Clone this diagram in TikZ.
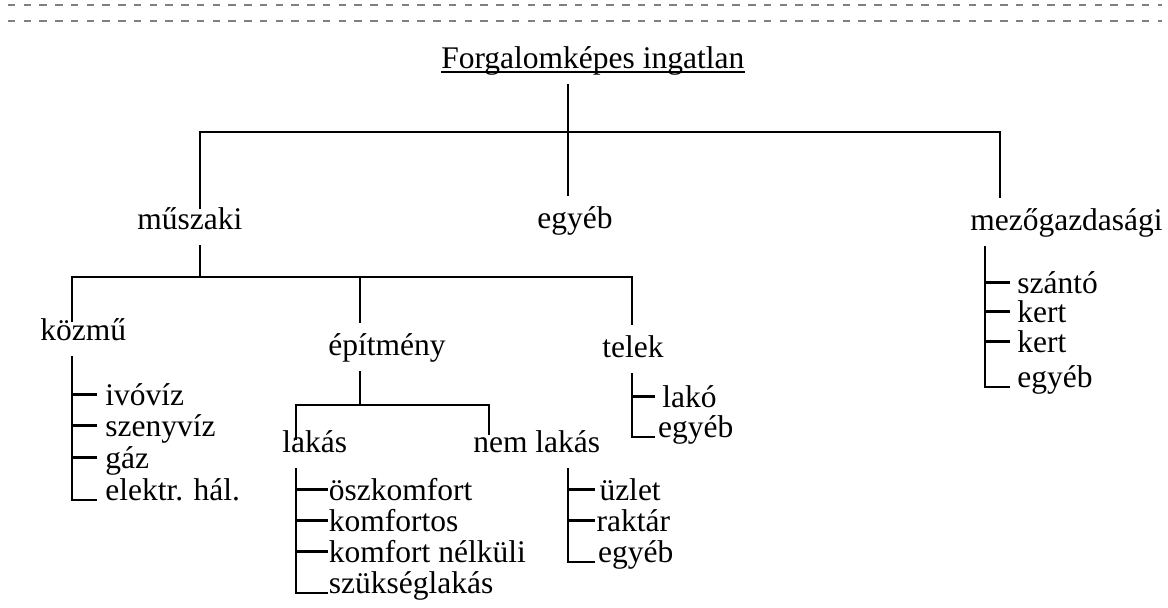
\documentclass[tikz,border=0pt]{standalone}
\usepackage{fontspec}
\setmainfont{Liberation Serif}
\usepackage{tikz}
\definecolor{szurke}{HTML}{808080}

\begin{document}
\begin{tikzpicture}[x=0.025cm, y=-0.025cm,
    felirat/.style={inner sep=0pt, anchor=base west, font=\fontsize{22.4}{26}\selectfont},
    szint/.style={felirat, text height=15.7pt, text depth=4.5pt, inner ysep=6.9pt},
    elem/.style={felirat, text height=17pt, text depth=2pt, inner xsep=#1},
    elem/.default=0pt,
    vonal/.style={line width=1.7pt},
    elvalaszto/.style={draw=szurke, line width=1.4pt, dash pattern=on 5.2pt off 6pt}
]
    \useasboundingbox (0,0) rectangle (1168,607);

    % szaggatott elvalaszto vonalak
    \draw[elvalaszto] (8,5) -- (1162,5);
    \draw[elvalaszto] (8,21) -- (1162,21);

    % cim
    \node[szint] (cim) at (441,68) {Forgalomképes ingatlan};
    \draw[line width=1.3pt] ([yshift=-3pt]cim.base west) -- ([yshift=-3pt]cim.base east);

    % elso szint
    \node[szint] (muszaki) at (137,229) {műszaki};
    \node[szint] (egyeb) at (537,228) {egyéb};
    \node[szint] (mezo) at (970,230) {mezőgazdasági};

    \coordinate (fo) at (568,132);
    \coordinate (fo-bal) at (200,132);
    \coordinate (fo-jobb) at (1000,132);
    \draw[vonal] (cim.south -| fo) -- (fo);
    \draw[vonal, shorten <=-8.3pt] (fo-bal |- muszaki.north) -- (fo-bal) -- (fo-jobb) -- (fo-jobb |- mezo.north);
    \draw[vonal] (fo) -- (fo |- egyeb.north);

    % muszaki
    \node[szint] (kozmu) at (40,340) {közmű};
    \node[szint] (epitmeny) at (328,355) {építmény};
    \node[szint] (telek) at (602,357) {telek};

    \coordinate (m) at (200,277);
    \coordinate (m-bal) at (72,277);
    \coordinate (m-kozep) at (360,277);
    \coordinate (m-jobb) at (632,277);
    \draw[vonal] (muszaki.south -| m) -- (m);
    \draw[vonal, shorten <=-9.7pt] (m-bal |- kozmu.north) -- (m-bal) -- (m-jobb) -- (m-jobb |- telek.north);
    \draw[vonal] (m-kozep) -- (m-kozep |- epitmeny.north);

    % kozmu
    \node[elem=5.7pt] (ivoviz) at (97,405) {ivóvíz};
    \node[elem=5.7pt] (szenyviz) at (97,436) {szenyvíz};
    \node[elem=5.7pt] (gaz) at (97,468) {gáz};
    \node[elem=5.7pt] (elektr) at (97,500) {elektr. hál.};
    \draw[vonal] (kozmu.south -| m-bal) |- (elektr.base west);
    \draw[vonal] (m-bal |- ivoviz.west) -- (ivoviz.west);
    \draw[vonal] (m-bal |- szenyviz.west) -- (szenyviz.west);
    \draw[vonal] (m-bal |- gaz.west) -- (gaz.west);

    % epitmeny
    \node[szint] (lakas) at (282,452) {lakás};
    \node[szint] (nemlakas) at (473,452) {nem lakás};

    \coordinate (e) at (360,405);
    \coordinate (e-bal) at (296,405);
    \coordinate (e-jobb) at (489,405);
    \draw[vonal] (epitmeny.south -| e) -- (e);
    \draw[vonal, shorten <=-14pt, shorten >=-10.5pt] (e-bal |- lakas.north) -- (e-bal) -- (e-jobb) -- (e-jobb |- nemlakas.north);

    % lakas
    \node[elem=0.5pt] (osz) at (328,500) {öszkomfort};
    \node[elem=0.5pt] (komf) at (328,531) {komfortos};
    \node[elem=0.5pt] (komfn) at (328,562) {komfort nélküli};
    \node[elem=0.5pt] (szuks) at (328,593) {szükséglakás};
    \draw[vonal] (lakas.south -| e-bal) |- (szuks.base west);
    \draw[vonal] (e-bal |- osz.west) -- (osz.west);
    \draw[vonal] (e-bal |- komf.west) -- (komf.west);
    \draw[vonal] (e-bal |- komfn.west) -- (komfn.west);

    % nem lakas
    \coordinate (n) at (568,468);
    \node[elem=3pt] (uzlet) at (595,500) {üzlet};
    \node[elem=1pt] (raktar) at (595,531) {raktár};
    \node[elem=2pt] (nlegyeb) at (595,562) {egyéb};
    \draw[vonal] (nemlakas.south -| n) |- (nlegyeb.base west);
    \draw[vonal] (n |- uzlet.west) -- (uzlet.west);
    \draw[vonal] (n |- raktar.west) -- (raktar.west);

    % telek
    \node[elem=5pt] (lako) at (655,407) {lakó};
    \node[elem=2pt] (tegyeb) at (655,437) {egyéb};
    \draw[vonal] (telek.south -| m-jobb) |- (tegyeb.base west);
    \draw[vonal] (m-jobb |- lako.west) -- (lako.west);

    % mezogazdasagi
    \coordinate (g) at (985,245);
    \node[elem=5pt] (szanto) at (1010,293) {szántó};
    \node[elem=5pt] (kert) at (1010,322) {kert};
    \node[elem=5pt] (kert2) at (1010,352) {kert};
    \node[elem=5pt] (gegyeb) at (1010,387) {egyéb};
    \draw[vonal] (mezo.south -| g) |- (gegyeb.base west);
    \draw[vonal] (g |- szanto.west) -- (szanto.west);
    \draw[vonal] (g |- kert.west) -- (kert.west);
    \draw[vonal] (g |- kert2.west) -- (kert2.west);
\end{tikzpicture}
\end{document}
